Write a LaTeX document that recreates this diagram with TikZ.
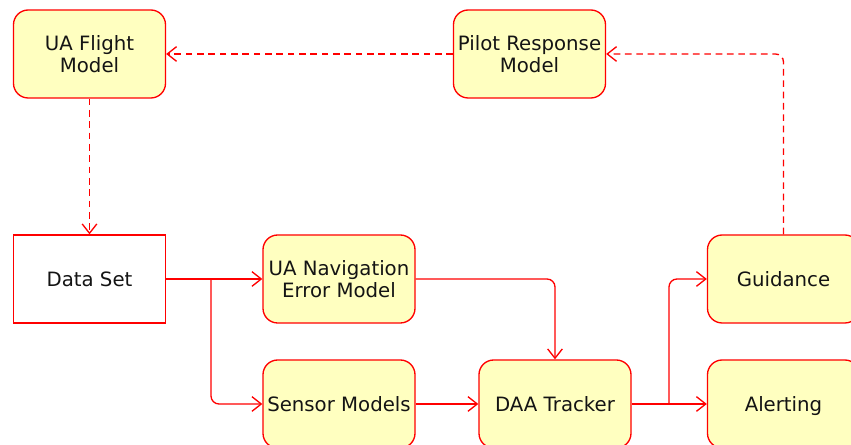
\documentclass[tikz,border=0pt]{standalone}
\usepackage{fontspec}
\setmainfont{DejaVu Sans}
\usepackage{tikz}
\usetikzlibrary{arrows.meta, positioning}
\definecolor{flowred}{RGB}{255,0,0}
\definecolor{boxyellow}{RGB}{255,255,192}
\definecolor{textdark}{RGB}{20,20,20}
\tikzset{
  model/.style={rectangle, draw=flowred, fill=boxyellow,
    minimum width=114pt, minimum height=66pt, align=center,
    inner sep=1pt, text=textdark,
    font=\fontsize{14.8}{16.8}\selectfont, rounded corners=11pt, line width=1pt},
  datablock/.style={rectangle, draw=flowred, fill=white,
    minimum width=114pt, minimum height=66pt, align=center,
    inner sep=1pt, text=textdark,
    font=\fontsize{14.8}{16.8}\selectfont, line width=1pt},
  flow/.style={-{Straight Barb[length=7pt,width=11pt]}, draw=flowred,
    line width=1pt, rounded corners=6pt},
  feedback/.style={flow, dash pattern=on 5pt off 3.5pt}
}

\begin{document}
\begin{tikzpicture}[x=0.75pt, y=0.75pt]
  \useasboundingbox (0,0) rectangle (851,445);
  \clip (0,0) rectangle (851,445);

  % Top row
  \node[model] (flight) at (89.5,391) {UA Flight\\Model};
  \node[model] (pilot) at (529.5,391) {Pilot Response\\Model};

  % Middle row
  \node[datablock] (dataset) at (89.5,166) {Data Set};
  \node[model] (uanav) at (339,166) {UA Navigation\\Error Model};
  \node[model] (guidance) at (783.5,166) {Guidance};

  % Bottom row
  \node[model] (sensor) at (339,41) {Sensor Models};
  \node[model] (daa) at (555,41) {DAA Tracker};
  \node[model, text depth=0pt] (alerting) at (783.5,41) {Alerting};

  % Branch points
  \coordinate (split1) at (211,166);
  \coordinate (split2) at (669,41);

  % Feedback loop
  \draw[feedback] (guidance.north) |- (pilot.east);
  \draw[feedback] (pilot.west) -- (flight.east);
  \draw[feedback] (flight.south) -- (dataset.north);

  % Main flow
  \draw[flow] (dataset.east) -- (uanav.west);
  \draw[flow] (split1) |- (sensor.west);
  \draw[flow] (uanav.east) -| (daa.north);
  \draw[flow] (sensor.east) -- (daa.west);
  \draw[flow] (daa.east) -- (alerting.west);
  \draw[flow] (split2) |- (guidance.west);
\end{tikzpicture}
\end{document}
